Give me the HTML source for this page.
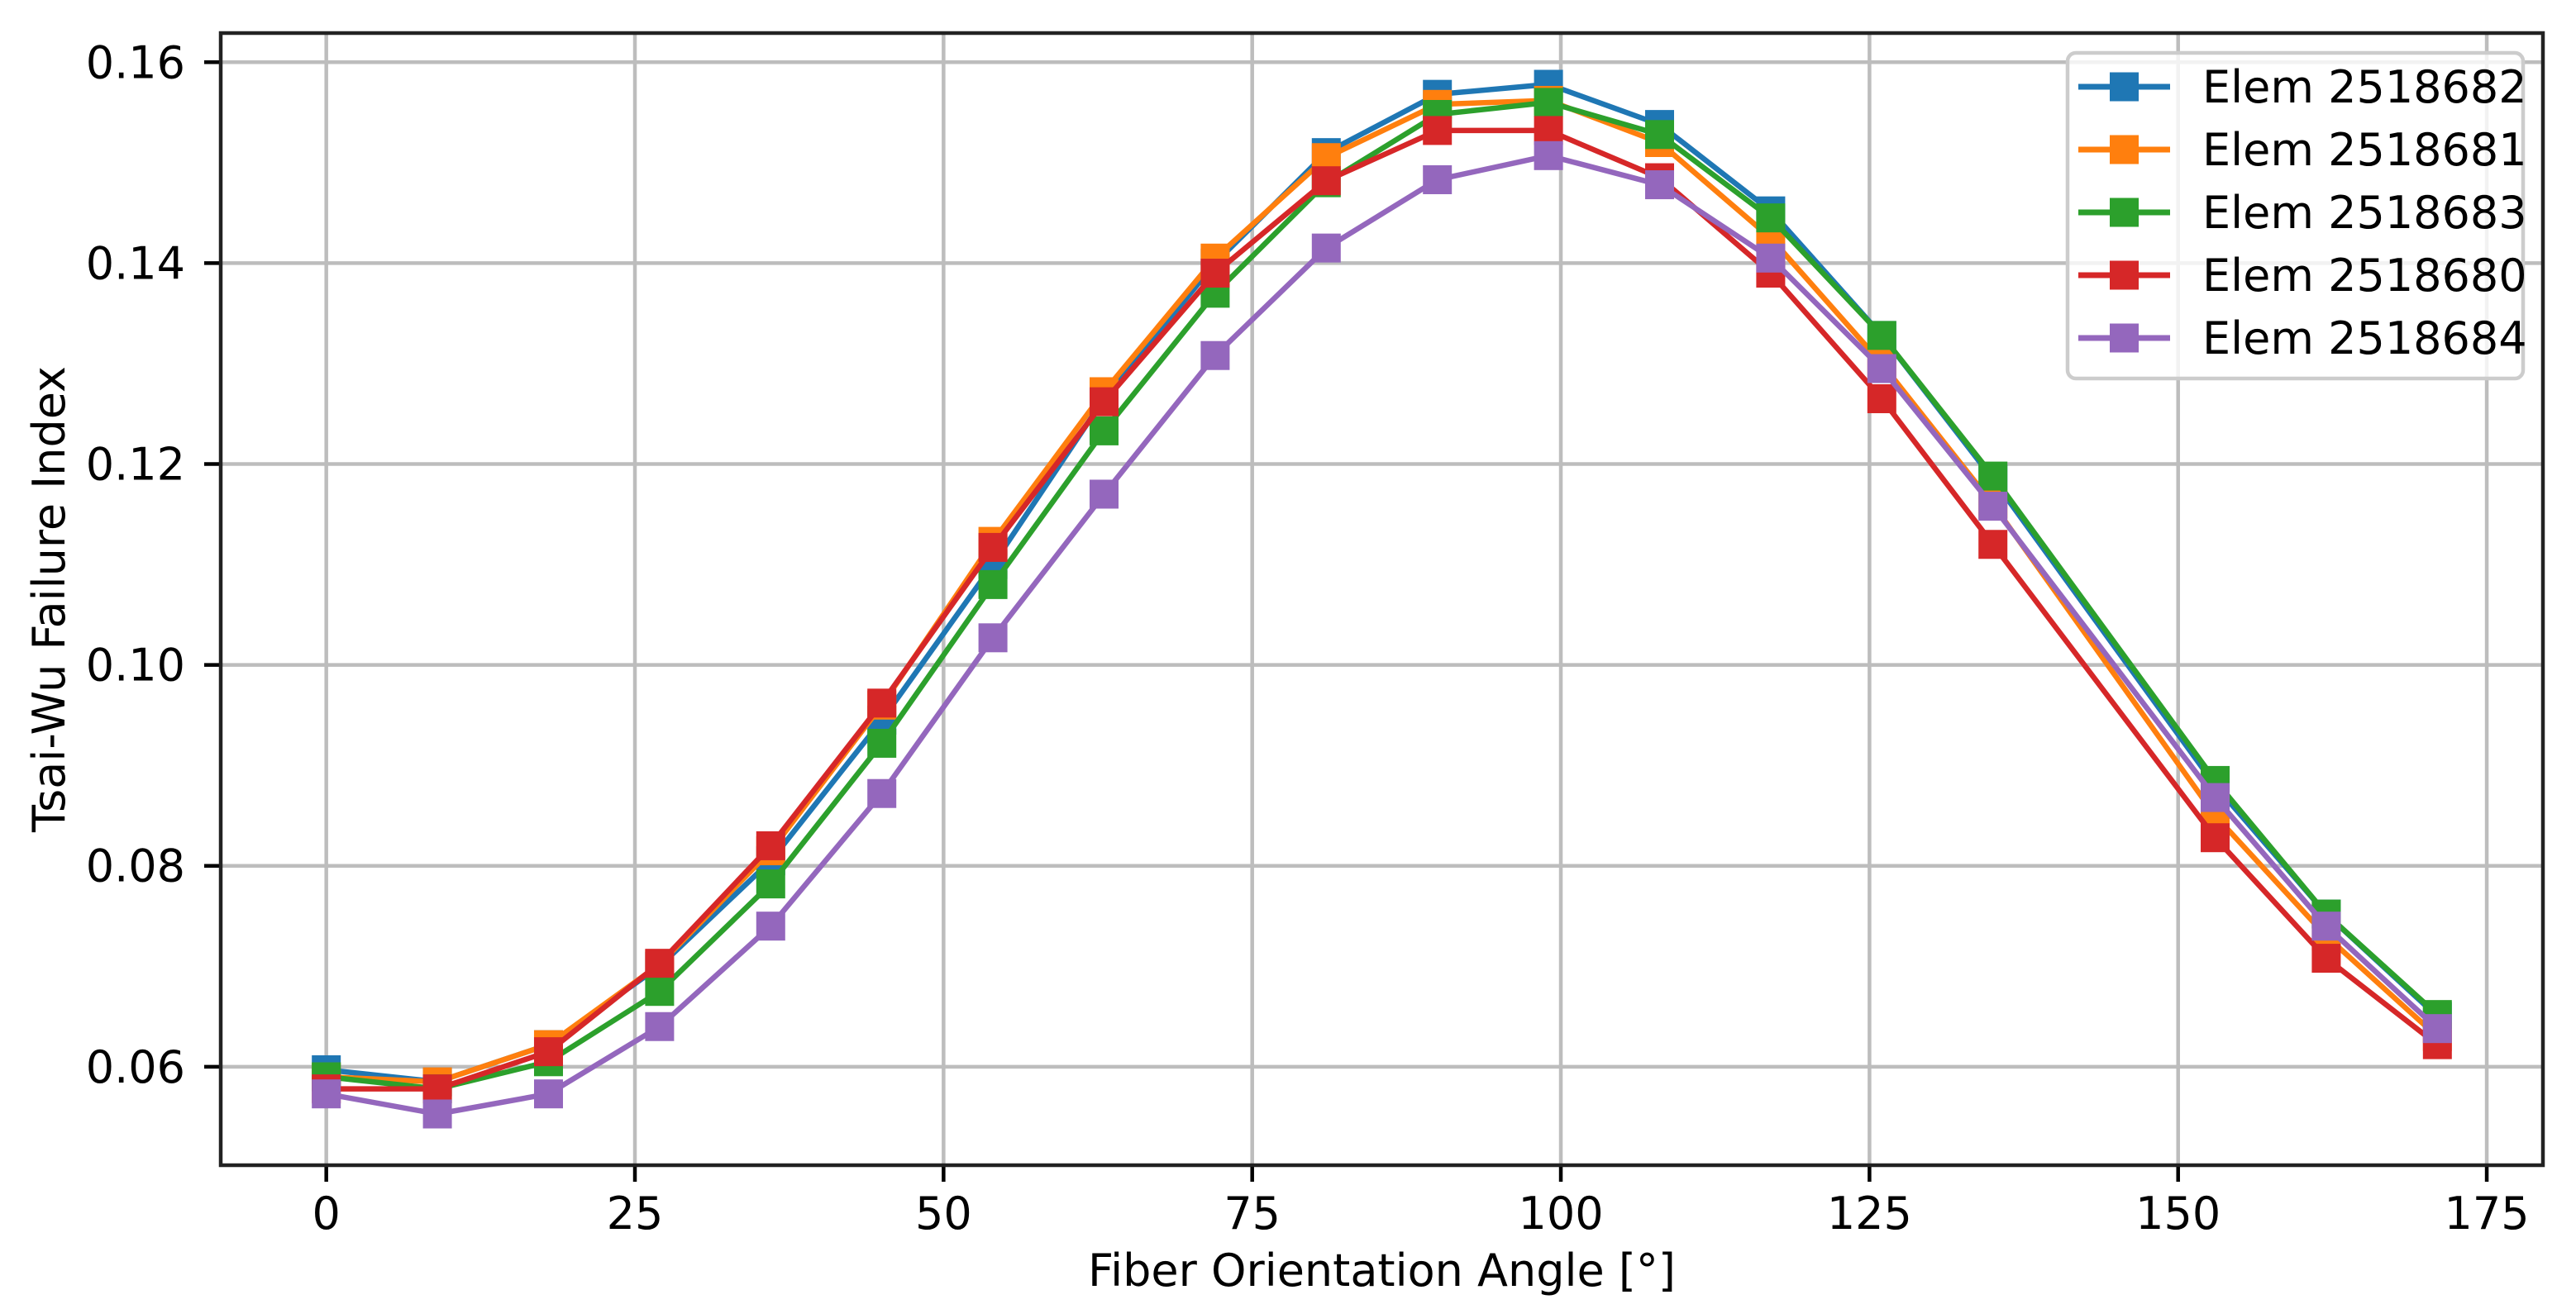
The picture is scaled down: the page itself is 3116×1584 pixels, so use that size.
<!DOCTYPE html>
<html><head><meta charset="utf-8"><style>
html,body{margin:0;padding:0;background:#fff;}
svg{display:block;font-family:"DejaVu Sans","Liberation Sans",sans-serif;}
</style></head><body>
<svg id="chart" width="3116" height="1584" viewBox="0 0 3116 1584" xmlns="http://www.w3.org/2000/svg">
<g id="grid"></g>
<g id="series"></g>
<g id="axes"></g>
<g id="legend"></g>
</svg>
<script>
const angles = [0,9,18,27,36,45,54,63,72,81,90,99,108,117,126,135,153,162,171];
const seriesNames = ["Elem 2518682","Elem 2518681","Elem 2518683","Elem 2518680","Elem 2518684"];
const seriesColors = ["#1f77b4","#ff7f0e","#2ca02c","#d62728","#9467bd"];
const elem2518682 = [0.0597,0.0585,0.0622,0.0700,0.0805,0.0945,0.1100,0.1265,0.1400,0.1510,0.1568,0.1578,0.1538,0.1452,0.1328,0.1185,0.0880,0.0752,0.0650];
const elem2518681 = [0.0590,0.0585,0.0622,0.0702,0.0815,0.0960,0.1123,0.1272,0.1405,0.1505,0.1558,0.1562,0.1520,0.1425,0.1300,0.1160,0.0850,0.0730,0.0630];
const elem2518683 = [0.0590,0.0578,0.0605,0.0675,0.0782,0.0922,0.1080,0.1233,0.1370,0.1480,0.1548,0.1560,0.1528,0.1445,0.1328,0.1188,0.0885,0.0752,0.0652];
const elem2518680 = [0.0578,0.0578,0.0615,0.0703,0.0820,0.0962,0.1117,0.1262,0.1390,0.1482,0.1532,0.1532,0.1485,0.1390,0.1265,0.1120,0.0828,0.0708,0.0622];
const elem2518684 = [0.0573,0.0553,0.0573,0.0640,0.0740,0.0872,0.1027,0.1170,0.1308,0.1415,0.1483,0.1507,0.1478,0.1405,0.1295,0.1158,0.0868,0.0740,0.0638];
const xTicks = [0,25,50,75,100,125,150,175];
const yTicks = [0.06,0.08,0.10,0.12,0.14,0.16];
const yTickLabels = ["0.06","0.08","0.10","0.12","0.14","0.16"];

const allSeries = [elem2518682, elem2518681, elem2518683, elem2518680, elem2518684];
const NS = "http://www.w3.org/2000/svg";
const L = 267, R = 3076, T = 40, B = 1410;
const xmin = -8.55, xmax = 179.55, ymin = 0.0502, ymax = 0.1629;
const FS = 54;
function xs(v){ return L + (v - xmin) / (xmax - xmin) * (R - L); }
function ys(v){ return B - (v - ymin) / (ymax - ymin) * (B - T); }
function mk(tag, attrs, parent){
  const e = document.createElementNS(NS, tag);
  for (const k in attrs) e.setAttribute(k, attrs[k]);
  parent.appendChild(e);
  return e;
}
const grid = document.getElementById('grid');
const axes = document.getElementById('axes');
const seriesG = document.getElementById('series');
const legend = document.getElementById('legend');

xTicks.forEach(t => {
  const x = xs(t);
  const g = mk('line', {x1:x, x2:x, y1:T, y2:B, stroke:'#bdbdbd', 'stroke-width':4.5}, grid);
  
  
  const tk = mk('line', {x1:x, x2:x, y1:B, y2:B+20, stroke:'#000', 'stroke-width':4.5}, axes);
  
  
  const tl = mk('text', {x:x, y:1487, 'font-size':FS, 'text-anchor':'middle', fill:'#000'}, axes);
  tl.textContent = String(t);
  
  
});
yTicks.forEach((t, i) => {
  const y = ys(t);
  const g = mk('line', {x1:L, x2:R, y1:y, y2:y, stroke:'#bdbdbd', 'stroke-width':4.5}, grid);
  
  
  const tk = mk('line', {x1:L-20, x2:L, y1:y, y2:y, stroke:'#000', 'stroke-width':4.5}, axes);
  
  
  const tl = mk('text', {x:224, y:y+19, 'font-size':FS, 'text-anchor':'end', fill:'#000'}, axes);
  tl.textContent = yTickLabels[i];
  
  
});
const frame = mk('rect', {x:L, y:T, width:R-L, height:B-T, fill:'none', stroke:'#222', 'stroke-width':4.5}, axes);


const xl = mk('text', {x:(L+R)/2, y:1556, 'font-size':FS, 'text-anchor':'middle', fill:'#000'}, axes);
xl.textContent = 'Fiber Orientation Angle [°]';


const yl = mk('text', {x:0, y:0, 'font-size':FS, 'text-anchor':'middle', fill:'#000', transform:'translate(78,'+((T+B)/2)+') rotate(-90)'}, axes);
yl.textContent = 'Tsai-Wu Failure Index';



const ms = 35;
allSeries.forEach((vals, si) => {
  const g = mk('g', {}, seriesG);
  
  
  const pts = vals.map((v, i) => xs(angles[i]) + ',' + ys(v)).join(' ');
  const pl = mk('polyline', {points:pts, fill:'none', stroke:seriesColors[si], 'stroke-width':6.5, 'stroke-linejoin':'round'}, g);
  
  
  vals.forEach((v, i) => {
    const r = mk('rect', {x:xs(angles[i]) - ms/2, y:ys(v) - ms/2, width:ms, height:ms, fill:seriesColors[si]}, g);
    
    
  });
});

const lb = mk('rect', {x:2501, y:64, width:551, height:394, rx:10, fill:'#fff', 'fill-opacity':0.8, stroke:'#cccccc', 'stroke-width':4.5}, legend);


seriesNames.forEach((n, i) => {
  const cy = 105 + 76 * i;
  const g = mk('g', {}, legend);
  
  
  const ln = mk('line', {x1:2514, x2:2625, y1:cy, y2:cy, stroke:seriesColors[i], 'stroke-width':7}, g);
  
  
  const m = mk('rect', {x:2552, y:cy - ms/2, width:ms, height:ms, fill:seriesColors[i]}, g);
  
  
  const t = mk('text', {x:2664, y:cy + 19, 'font-size':FS, fill:'#000'}, g);
  t.textContent = n;
  
  
});
</script>
</body></html>
